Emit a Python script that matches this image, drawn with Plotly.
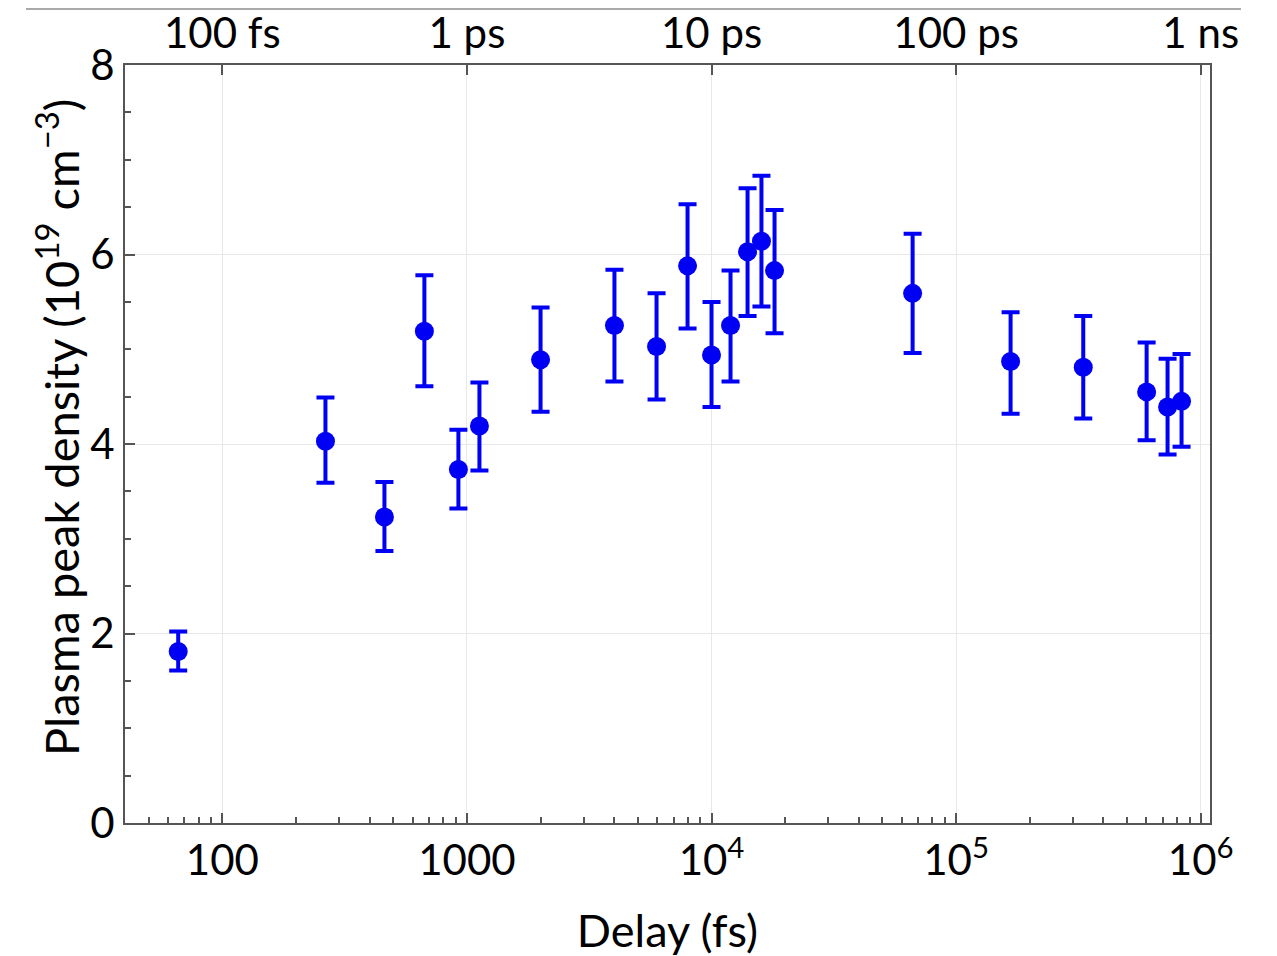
import plotly.graph_objects as go
import numpy as np

delay_fs = [66, 264, 460, 670, 923, 1125, 2000, 4010, 5960, 7980, 10000, 11960,
            14040, 16000, 18100, 66400, 167000, 331000, 601000, 732000, 835000]
density = [1.81, 4.03, 3.23, 5.19, 3.73, 4.19, 4.89, 5.25, 5.03, 5.88, 4.94, 5.25,
           6.03, 6.14, 5.83, 5.59, 4.87, 4.81, 4.55, 4.39, 4.45]
err_plus = [0.21, 0.46, 0.37, 0.59, 0.42, 0.46, 0.55, 0.59, 0.56, 0.65, 0.56, 0.58,
            0.67, 0.69, 0.64, 0.63, 0.52, 0.54, 0.52, 0.51, 0.50]
err_minus = [0.20, 0.44, 0.36, 0.58, 0.41, 0.47, 0.55, 0.59, 0.56, 0.66, 0.55, 0.59,
             0.68, 0.69, 0.66, 0.63, 0.55, 0.54, 0.51, 0.50, 0.48]

bottom_tickvals = [100, 1000, 1e4, 1e5, 1e6]
bottom_ticktext = ["100", "1000", "10<sup>4</sup>", "10<sup>5</sup>", "10<sup>6</sup>"]
top_tickvals = [100, 1000, 1e4, 1e5, 1e6]
top_ticktext = ["100 fs", "1 ps", "10 ps", "100 ps", "1 ns"]
y_tickvals = [0, 2, 4, 6, 8]

FONT = "Lato"
BLUE = "rgb(0,0,245)"
AX = "#555555"

minor_x = [m * 10 ** e for e in range(1, 7) for m in range(2, 10)]
minor_x = [v for v in minor_x if 40 <= v <= 1.09e6]
minor_y = [v / 2 for v in range(0, 17) if v % 4 != 0]

fig = go.Figure()
fig.add_trace(go.Scatter(
    x=delay_fs, y=density, mode="markers",
    marker=dict(color=BLUE, size=19),
    error_y=dict(type="data", array=err_plus, arrayminus=err_minus,
                 color=BLUE, thickness=4, width=9),
    showlegend=False,
))
# invisible trace for top axis
fig.add_trace(go.Scatter(x=[100, 1e6], y=[0, 0], xaxis="x2", mode="markers",
                         marker=dict(opacity=0), showlegend=False, hoverinfo="skip"))

xr = [np.log10(40.0), 6.038]
fig.update_layout(
    width=1277, height=956,
    margin=dict(l=117, r=75, t=57, b=141),
    paper_bgcolor="white", plot_bgcolor="white",
    font=dict(family=FONT, color="black", size=40),
    xaxis=dict(
        type="log", range=xr, automargin=False,
        tickmode="array", tickvals=bottom_tickvals, ticktext=bottom_ticktext,
        ticks="inside", ticklen=10, tickwidth=1.5, tickcolor=AX,
        showline=True, linecolor=AX, linewidth=2, mirror=True,
        showgrid=True, gridcolor="#e8e8e8", gridwidth=1,
        zeroline=False,
        tickfont=dict(size=42, family=FONT),
        title=dict(text="Delay (fs)", font=dict(size=45, family=FONT), standoff=32),
        minor=dict(tickmode="array", tickvals=minor_x, ticks="inside", ticklen=6,
                   tickwidth=1.5, tickcolor=AX, showgrid=False),
    ),
    xaxis2=dict(
        type="log", range=xr, overlaying="x", side="top", automargin=False,
        tickmode="array", tickvals=top_tickvals, ticktext=top_ticktext,
        ticks="inside", ticklen=10, tickwidth=1.5, tickcolor=AX,
        showgrid=False, showline=False, zeroline=False,
        tickfont=dict(size=42, family=FONT), ticklabelstandoff=8,
    ),
    yaxis=dict(
        range=[0, 8], automargin=False,
        tickmode="array", tickvals=y_tickvals,
        ticks="inside", ticklen=10, tickwidth=1.5, tickcolor=AX,
        showline=True, linecolor=AX, linewidth=2, mirror=True,
        showgrid=True, gridcolor="#e8e8e8", gridwidth=1,
        zeroline=False,
        tickfont=dict(size=42, family=FONT),
        minor=dict(tickmode="array", tickvals=minor_y, ticks="inside", ticklen=6,
                   tickwidth=1.5, tickcolor=AX, showgrid=False),
    ),
)
fig.add_annotation(
    text="Plasma peak density (10<sup>19</sup> cm<sup>\u22123</sup>)",
    xref="paper", yref="paper", x=(57 - 124) / 1085, y=(822 - 427) / 758,
    xanchor="center", yanchor="middle", textangle=-90, showarrow=False,
    font=dict(size=47, family=FONT, color="black"),
)
# decorative gray rule at top of the image
fig.add_shape(type="line", xref="paper", yref="paper",
              x0=(25 - 124) / 1085, x1=(1240 - 124) / 1085,
              y0=1 + 56 / 758, y1=1 + 56 / 758,
              line=dict(color="#aaaaaa", width=2))
fig.write_html("out.html")
